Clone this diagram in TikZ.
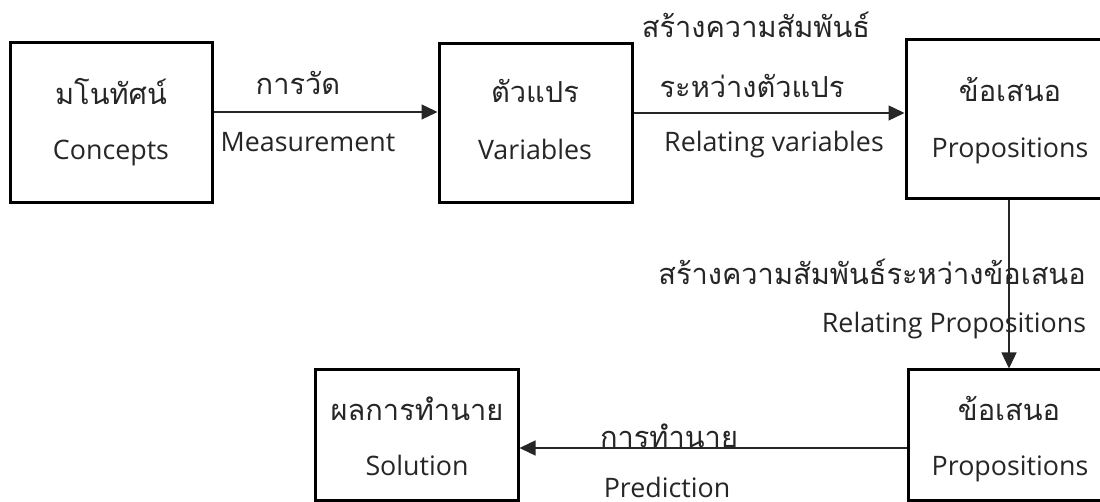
\documentclass[tikz,border=0pt]{standalone}
\usepackage{fontspec}
\setmainfont{Open Sans}
\newfontfamily\thaifont[Script=Thai]{Loma}
\usetikzlibrary{arrows.meta}
\tikzset{
  box/.style={draw=black, line width=3pt, fill=none, inner sep=0pt},
  conn/.style={draw=black!85, line width=1.3pt, -{Triangle[length=16pt,width=15pt]}},
  en/.style={anchor=base, inner sep=0pt, text=black!85, font=\fontsize{26.8}{30}\selectfont},
  th/.style={anchor=base, inner sep=0pt, text=black!85, font=\thaifont\fontsize{29}{32}\selectfont},
}
\begin{document}
\begin{tikzpicture}[x=1pt,y=-1pt]
\clip (0,0) rectangle (1100,502);
\fill[white] (0,0) rectangle (1100,502);
% boxes
\node[box, minimum width=202pt, minimum height=160pt] (b1) at (111,123) {};
\node[box, minimum width=193pt, minimum height=159pt] (b2) at (535.5,123.5) {};
\node[box, minimum width=206pt, minimum height=159pt] (b3) at (1009,119.5) {};
\node[box, minimum width=202pt, minimum height=130pt] (b4) at (1009,435) {};
\node[box, minimum width=203pt, minimum height=130pt] (b5) at (416.5,435) {};
% box texts
\node[th] (t1) at (111,105) {มโนทัศน์};
\node[en] (e1) at (111,160) {Concepts};
\node[th] (t2) at (535,103) {ตัวแปร};
\node[en] (e2) at (535,160) {Variables};
\node[th] (t3) at (1010,102) {ข้อเสนอ};
\node[en] (e3) at (1010,158) {Propositions};
\node[th] (t4) at (1009,420) {ข้อเสนอ};
\node[en] (e4) at (1010,475) {Propositions};
\node[th] (t5) at (417,420) {ผลการทำนาย};
\node[en] (e5) at (417,475) {Solution};
% connectors
\draw[conn] ([yshift=11pt]b1.east) -- ([yshift=11.5pt]b2.west);
\draw[conn] ([yshift=10.5pt]b2.east) -- ([yshift=6.5pt]b3.west);
\draw[conn] (b3.south) -- (b4.north);
\draw[conn] ([yshift=-13pt]b4.west) -- ([yshift=-13pt]b5.east);
% connector labels
\node[th] (l1) at (298,95) {การวัด};
\node[en] (l2) at (308,152) {Measurement};
\node[th] (l3) at (756,38) {สร้างความสัมพันธ์};
\node[th] (l4) at (752,98) {ระหว่างตัวแปร};
\node[en] (l5) at (774,152) {Relating variables};
\node[th] (l6) at (872,285) {สร้างความสัมพันธ์ระหว่างข้อเสนอ};
\node[en] (l7) at (954,333) {Relating Propositions};
\node[th] (l8) at (669,447) {การทำนาย};
\node[en] (l9) at (667,497) {Prediction};
\end{tikzpicture}
\end{document}
